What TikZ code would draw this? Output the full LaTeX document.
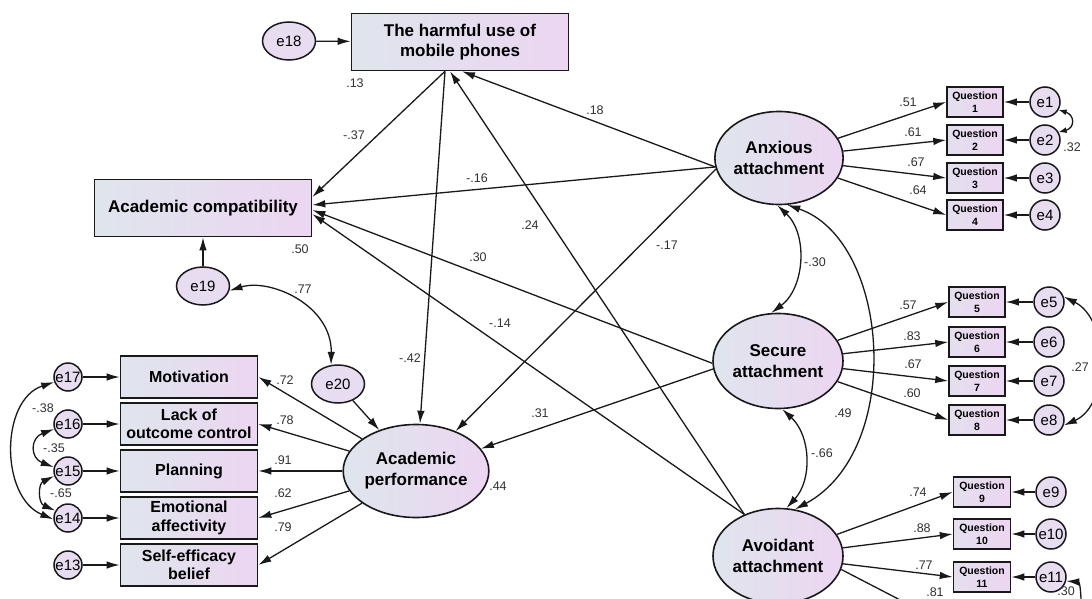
\documentclass[tikz,border=0pt]{standalone}
\usepackage{fontspec}
\setmainfont{Liberation Sans}
\usetikzlibrary{shapes.geometric,arrows.meta}
\definecolor{fillL}{RGB}{223,229,236}
\definecolor{fillR}{RGB}{236,214,241}
\definecolor{efill}{RGB}{232,220,241}
\definecolor{lineC}{RGB}{25,25,25}
\definecolor{numC}{RGB}{50,50,50}
\begin{document}
\begin{tikzpicture}[x=1pt,y=-1pt,
 arr/.style={-{Latex[length=13pt,width=7.5pt]}, line width=1.3pt, draw=lineC},
 cov/.style={{Latex[length=13pt,width=7.5pt]}-{Latex[length=13pt,width=7.5pt]}, line width=1.3pt, draw=lineC},
 covs/.style={{Latex[length=8pt,width=6pt]}-{Latex[length=8pt,width=6pt]}, line width=1.3pt, draw=lineC},
 bigbox/.style={rectangle, draw=lineC, line width=1.6pt, left color=fillL, right color=fillR, minimum width=217pt, minimum height=57pt, inner sep=0pt, align=center, font=\fontsize{17}{20}\selectfont\bfseries},
 lbox/.style={rectangle, draw=lineC, line width=1.6pt, left color=fillL, right color=fillR, minimum width=137pt, minimum height=42pt, inner sep=0pt, align=center, font=\fontsize{16}{18.5}\selectfont\bfseries},
 qbox/.style={rectangle, draw=lineC, line width=1.5pt, left color=fillL!60!fillR, right color=fillR, minimum width=56pt, minimum height=30pt, inner sep=0pt, align=center, font=\fontsize{10.5}{13}\selectfont\bfseries},
 lat/.style={ellipse, draw=lineC, line width=1.6pt, left color=fillL, right color=fillR, inner sep=0pt, align=center, font=\fontsize{17}{21}\selectfont\bfseries},
 err/.style={ellipse, draw=lineC, line width=1.5pt, fill=efill, minimum width=53pt, minimum height=38pt, inner sep=0pt, font=\fontsize{15}{17}\selectfont},
 errc/.style={circle, draw=lineC, line width=1.5pt, fill=efill, minimum size=30pt, inner sep=0pt, font=\fontsize{15}{17}\selectfont},
 num/.style={inner sep=0pt, text=numC, font=\fontsize{12.5}{14}\selectfont}
]
\useasboundingbox (0,0) rectangle (1092,599);
\fill[white] (0,0) rectangle (1092,599);
\clip (0,0) rectangle (1092,599);

% ---- left / centre nodes
\node[err] (e18) at (289,41) {e18};
\node[bigbox] (harm) at (460,42) {The harmful use of\\mobile phones};
\node[bigbox] (ac) at (203,208) {Academic compatibility};
\node[err] (e19) at (203,286) {e19};
\node[err] (e20) at (338,384) {e20};
\node[lat, minimum width=131pt, minimum height=93pt] (ap) at (416,471) {Academic\\performance};

\node[lbox] (mot) at (189,377) {Motivation};
\node[lbox] (lack) at (189,424) {Lack of\\outcome control};
\node[lbox] (plan) at (189,471) {Planning};
\node[lbox] (emo) at (189,518) {Emotional\\affectivity};
\node[lbox] (self) at (189,565) {Self-efficacy\\belief};

\node[errc, minimum size=28pt] (e17) at (68,377) {e17};
\node[errc, minimum size=28pt] (e16) at (68,424) {e16};
\node[errc, minimum size=28pt] (e15) at (68,471) {e15};
\node[errc, minimum size=28pt] (e14) at (68,518) {e14};
\node[errc, minimum size=28pt] (e13) at (68,565) {e13};

% ---- right nodes
\node[lat, minimum width=128pt, minimum height=93pt] (anx) at (779,158) {Anxious\\attachment};
\node[lat, minimum width=130pt, minimum height=95pt] (sec) at (778,361) {Secure\\attachment};
\node[lat, minimum width=130pt, minimum height=95pt] (avd) at (778,556) {Avoidant\\attachment};

\node[qbox] (q1) at (975,102) {Question\\1};
\node[qbox] (q2) at (975,140) {Question\\2};
\node[qbox] (q3) at (975,178) {Question\\3};
\node[qbox] (q4) at (975,215) {Question\\4};
\node[qbox] (q5) at (977,302) {Question\\5};
\node[qbox] (q6) at (977,342) {Question\\6};
\node[qbox] (q7) at (977,381) {Question\\7};
\node[qbox] (q8) at (977,420) {Question\\8};
\node[qbox, minimum width=57pt] (q9) at (982,492) {Question\\9};
\node[qbox, minimum width=57pt] (q10) at (982,534) {Question\\10};
\node[qbox, minimum width=57pt] (q11) at (982,577) {Question\\11};

\node[errc] (e1) at (1045,102) {e1};
\node[errc] (e2) at (1045,140) {e2};
\node[errc] (e3) at (1045,178) {e3};
\node[errc] (e4) at (1045,215) {e4};
\node[errc] (e5) at (1049,302) {e5};
\node[errc] (e6) at (1049,342) {e6};
\node[errc] (e7) at (1049,381) {e7};
\node[errc] (e8) at (1049,420) {e8};
\node[errc] (e9) at (1051,492) {e9};
\node[errc] (e10) at (1051,534) {e10};
\node[errc] (e11) at (1051,577) {e11};

\coordinate (q12) at (960,631);
\coordinate (e12) at (1082,650);

% ---- error arrows
\draw[arr] (e18) -- (harm);
\draw[arr] (e19) -- (ac);
\draw[arr] (e20) -- (ap);
\draw[arr] (e13) -- (self);
\draw[arr] (e14) -- (emo);
\draw[arr] (e15) -- (plan);
\draw[arr] (e16) -- (lack);
\draw[arr] (e17) -- (mot);
\foreach \i in {1,...,11} \draw[arr] (e\i) -- (q\i);

% ---- structural paths
\draw[arr] ([xshift=-15pt]harm.south) -- ([yshift=11pt]ac.east);
\draw[arr] ([xshift=-15pt]harm.south) -- ([xshift=4pt]ap.north);
\draw[arr] (anx.188) -- ([xshift=2pt]harm.south);
\draw[arr] (anx.188) -- ([yshift=3pt]ac.east);
\draw[arr] (anx.190) -- (ap);
\draw[arr] (sec.182) -- ([yshift=-2pt]ac.east);
\draw[arr] (sec.187) -- (ap);
\draw[arr] (avd.129) -- ([xshift=-10pt]harm.south);
\draw[arr] (avd.129) -- ([yshift=-6pt]ac.east);

% ---- measurement paths
\draw[arr] (ap) -- (mot.east);
\draw[arr] (ap) -- (lack.east);
\draw[arr] (ap) -- (plan.east);
\draw[arr] (ap) -- (emo.east);
\draw[arr] (ap) -- (self.east);
\foreach \i in {1,...,4} \draw[arr] (anx) -- (q\i.west);
\foreach \i in {5,...,8} \draw[arr] (sec) -- (q\i.west);
\foreach \i in {9,...,11} \draw[arr] (avd) -- (q\i.west);
\draw[arr] (avd.-12) -- (q12);

% ---- covariances
\draw[cov] (e19.-10) .. controls (270,278) and (332,305) .. (e20.110);
\draw[cov] (anx.-92) to[bend left=50] (sec.98);
\draw[cov] (sec.-85) to[bend left=45] (avd.80);
\draw[cov] (anx.-80) .. controls (890,240) and (905,450) .. (avd.70);
\draw[cov] (e17.200) .. controls (0,400) and (0,497) .. (e14.185);
\draw[cov] (e16.200) .. controls (30,438) and (30,458) .. (e15.165);
\draw[cov] (e15.200) .. controls (38,484) and (38,503) .. (e14.150);
\draw[covs] (e1.-30) .. controls (1075,115) and (1075,128) .. (e2.30);
\draw[cov] (e5.20) .. controls (1110,320) and (1110,405) .. (e8.-20);
\draw[{Latex[length=13pt,width=7.5pt]}-, line width=1.3pt, draw=lineC] (e11.-15) .. controls (1080,582) and (1082,595) .. (e12);

% ---- numbers
\node[num] (n13) at (355,83) {.13};
\node[num] (n37) at (354,135) {-.37};
\node[num] (n16) at (477,178) {-.16};
\node[num] (n18) at (595,110) {.18};
\node[num] (n24) at (530,225) {.24};
\node[num] (n30a) at (478,257) {.30};
\node[num] (n14) at (500,323) {-.14};
\node[num] (n42) at (410,358) {-.42};
\node[num] (n17) at (667,245) {-.17};
\node[num] (n31) at (540,413) {.31};
\node[num] (n50) at (300,249) {.50};
\node[num] (n77) at (303,289) {.77};
\node[num] (n44) at (498,486) {.44};
\node[num] (n72) at (285,380) {.72};
\node[num] (n78) at (285,420) {.78};
\node[num] (n91) at (283,460) {.91};
\node[num] (n62) at (283,493) {.62};
\node[num] (n79) at (283,527) {.79};
\node[num] (n38) at (43,408) {-.38};
\node[num] (n35) at (54,448) {-.35};
\node[num] (n65) at (61,493) {-.65};
\node[num] (n51) at (908,102) {.51};
\node[num] (n61) at (913,132) {.61};
\node[num] (n67a) at (916,162) {.67};
\node[num] (n64) at (918,190) {.64};
\node[num] (n32) at (1072,147) {.32};
\node[num] (n30b) at (815,262) {-.30};
\node[num] (n57) at (908,305) {.57};
\node[num] (n83) at (912,336) {.83};
\node[num] (n67b) at (913,364) {.67};
\node[num] (n60) at (912,393) {.60};
\node[num] (n27) at (1080,367) {.27};
\node[num] (n49) at (843,413) {.49};
\node[num] (n66) at (822,453) {-.66};
\node[num] (n74) at (918,492) {.74};
\node[num] (n88) at (922,528) {.88};
\node[num] (n77b) at (924,565) {.77};
\node[num] (n81) at (935,592) {.81};
\node[num] (n30c) at (1066,591) {.30};
\end{tikzpicture}
\end{document}
